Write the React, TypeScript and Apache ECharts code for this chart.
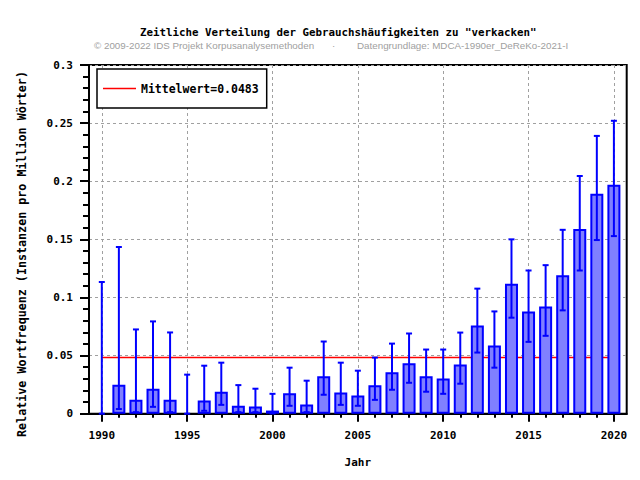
import React, { useEffect, useRef } from "react";
import * as echarts from "echarts";

const YEARS = [1990, 1991, 1992, 1993, 1994, 1995, 1996, 1997, 1998, 1999, 2000, 2001, 2002, 2003, 2004, 2005, 2006, 2007, 2008, 2009, 2010, 2011, 2012, 2013, 2014, 2015, 2016, 2017, 2018, 2019, 2020];
const FREQ = [0, 0.0248, 0.012, 0.0215, 0.012, 0, 0.0114, 0.0189, 0.0068, 0.0062, 0.0027, 0.0175, 0.008, 0.0322, 0.0183, 0.0157, 0.0244, 0.0356, 0.0434, 0.0322, 0.0303, 0.0423, 0.0759, 0.0586, 0.1117, 0.088, 0.0923, 0.1191, 0.1589, 0.1892, 0.197];
const LOW = [0, 0.004, 0.0013, 0.0059, 0.0013, 0, 0.0025, 0.0076, 0.0013, 0.0013, 0.0002, 0.0068, 0.0013, 0.0163, 0.0076, 0.0068, 0.0119, 0.0206, 0.0266, 0.0189, 0.0171, 0.0258, 0.0526, 0.0396, 0.0826, 0.0618, 0.067, 0.0889, 0.1232, 0.1494, 0.1528];
const HIGH = [0.1133, 0.1434, 0.0725, 0.0794, 0.0699, 0.0336, 0.0413, 0.0439, 0.0246, 0.0215, 0.0171, 0.0396, 0.0284, 0.0621, 0.0439, 0.037, 0.0483, 0.0603, 0.069, 0.0552, 0.0552, 0.0698, 0.1076, 0.088, 0.15, 0.1232, 0.1278, 0.1582, 0.2045, 0.239, 0.252];
const MEAN = 0.0483;
const X_TICKS = [1990, 1995, 2000, 2005, 2010, 2015, 2020];

const TITLE = 'Zeitliche Verteilung der Gebrauchshäufigkeiten zu "verkacken"';
const COPYRIGHT = "© 2009-2022 IDS Projekt Korpusanalysemethoden";
const SOURCE = "Datengrundlage: MDCA-1990er_DeReKo-2021-I";
const Y_NAME = "Relative Wortfrequenz (Instanzen pro Million Wörter)";
const X_NAME = "Jahr";

const MONO = "'DejaVu Sans Mono', monospace";
const SANS = "9.8px 'Liberation Sans', Arial, sans-serif";

export default function App() {
  const ref = useRef<HTMLDivElement>(null);
  useEffect(() => {
    if (!ref.current) return;
    const chart = echarts.init(ref.current, null, { renderer: "svg" });
    const meanName = `Mittelwert=${MEAN}`;
    const xCommon = {
      type: "value",
      min: 1989.25,
      max: 2020.75,
      position: "bottom",
    };
    const option: any = {
      animation: false,
      backgroundColor: "#ffffff",
      title: [
        {
          text: TITLE,
          left: 140,
          top: 27,
          padding: 0,
          textStyle: { fontFamily: MONO, fontSize: 10.8, fontWeight: "bold", color: "#000" },
        },
      ],
      graphic: [
        {
          type: "text",
          left: 94,
          top: 40,
          style: { text: COPYRIGHT, font: SANS, fill: "#a0a0a0" },
        },
        {
          type: "text",
          left: 332,
          top: 40,
          style: { text: "·", font: SANS, fill: "#a0a0a0" },
        },
        {
          type: "text",
          left: 357,
          top: 40,
          style: { text: SOURCE, font: SANS, fill: "#a0a0a0" },
        },
        {
          type: "text",
          x: 21.5,
          y: 254,
          rotation: Math.PI / 2,
          style: {
            text: Y_NAME,
            font: `bold 11.7px ${MONO}`,
            fill: "#000",
            align: "center",
            verticalAlign: "middle",
          },
        },
      ],
      legend: {
        data: [{ name: meanName, icon: "rect" }],
        left: 97,
        top: 69,
        orient: "vertical",
        padding: [12, 8, 12, 6],
        itemWidth: 33,
        itemHeight: 1.5,
        itemGap: 6,
        backgroundColor: "#fff",
        borderColor: "#000",
        borderWidth: 1.5,
        borderRadius: 0,
        itemStyle: { color: "#ff0000", borderWidth: 0 },
        textStyle: { fontFamily: MONO, fontSize: 11.5, fontWeight: "bold", color: "#000", lineHeight: 15 },
      },
      grid: {
        left: 89,
        right: 13.3,
        top: 65,
        bottom: 66.3,
        show: true,
        borderColor: "#000",
        borderWidth: 2,
        backgroundColor: "transparent",
      },
      xAxis: [
        {
          ...xCommon,
          name: X_NAME,
          nameLocation: "middle",
          nameGap: 43,
          nameTextStyle: { fontFamily: MONO, fontSize: 11, fontWeight: "bold", color: "#000" },
          axisLine: { show: true, onZero: false, lineStyle: { color: "#000", width: 2 } },
          axisTick: { show: true, customValues: X_TICKS, length: 8, lineStyle: { color: "#000", width: 2 } },
          minorTick: { show: false },
          axisLabel: {
            customValues: X_TICKS,
            margin: 16,
            fontFamily: MONO,
            fontSize: 11,
            fontWeight: "bold",
            color: "#000",
            formatter: (v: number) => String(v),
          },
          splitLine: { show: true, lineStyle: { color: "#a0a0a0", width: 1, type: [3, 3] } },
        },
        {
          ...xCommon,
          axisLine: { show: false, onZero: false },
          axisTick: { show: true, customValues: YEARS, length: 4, lineStyle: { color: "#000", width: 2 } },
          axisLabel: { show: false },
          splitLine: { show: false },
        },
      ],
      yAxis: {
        type: "value",
        min: 0,
        max: 0.3,
        interval: 0.05,
        axisLine: { show: true, lineStyle: { color: "#000", width: 2 } },
        axisTick: { show: true, length: 9, lineStyle: { color: "#000", width: 2 } },
        minorTick: { show: true, splitNumber: 5, length: 6, lineStyle: { color: "#000", width: 2 } },
        axisLabel: {
          margin: 16,
          fontFamily: MONO,
          fontSize: 11,
          fontWeight: "bold",
          color: "#000",
        },
        splitLine: { show: true, lineStyle: { color: "#a0a0a0", width: 1, type: [3, 3] } },
      },
      series: [
        {
          name: meanName,
          type: "line",
          z: 1,
          symbol: "none",
          lineStyle: { color: "#ff0000", width: 1.5 },
          itemStyle: { color: "#ff0000" },
          data: [
            [YEARS[0], MEAN],
            [YEARS[YEARS.length - 1], MEAN],
          ],
        },
        {
          name: "Frequenz",
          type: "bar",
          z: 2,
          barWidth: 13,
          itemStyle: { color: "#8080ff", borderColor: "#0000ff", borderWidth: 2 },
          data: YEARS.map((y, i) => (FREQ[i] === 0 ? [y, "-"] : [y, FREQ[i]])),
        },
        {
          name: "Konfidenz",
          type: "custom",
          z: 3,
          encode: { x: 0, y: [1, 2] },
          data: YEARS.map((y, i) => [y, LOW[i], HIGH[i]]),
          renderItem: (_params: any, api: any) => {
            const x = api.value(0);
            const pLo = api.coord([x, api.value(1)]);
            const pHi = api.coord([x, api.value(2)]);
            const cw = 3;
            const style = { stroke: "#0000ff", lineWidth: 2 };
            return {
              type: "group",
              children: [
                { type: "line", shape: { x1: pLo[0], y1: pLo[1], x2: pHi[0], y2: pHi[1] }, style },
                { type: "line", shape: { x1: pHi[0] - cw, y1: pHi[1], x2: pHi[0] + cw, y2: pHi[1] }, style },
                { type: "line", shape: { x1: pLo[0] - cw, y1: pLo[1], x2: pLo[0] + cw, y2: pLo[1] }, style },
              ],
            };
          },
        },
      ],
    };
    chart.setOption(option);
    return () => chart.dispose();
  }, []);
  return (
    <div
      ref={ref}
      style={{ position: "fixed", left: 0, top: 0, width: 640, height: 480, background: "#fff" }}
    />
  );
}
